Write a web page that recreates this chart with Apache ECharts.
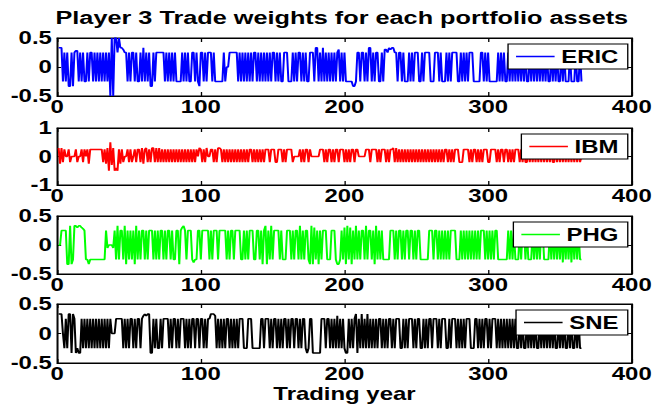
<!DOCTYPE html>
<html>
<head>
<meta charset="utf-8">
<script src="https://cdn.jsdelivr.net/npm/echarts@6/dist/echarts.min.js"></script>
<style>
html, body { margin: 0; padding: 0; background: #fff; overflow: hidden; }
/* the original figure is stretched sideways, so draw narrow and widen */
#main { width: 500px; height: 407px; transform: scaleX(1.33); transform-origin: 0 0; }
</style>
</head>
<body>
<div id="main"></div>
<script>
// asset names / colours
var names = ['ERIC', 'IBM', 'PHG', 'SNE'];
var colors = ['#0000ff', '#ff0000', '#00ff00', '#000000'];

// x axis ticks
var xTicks = [0, 100, 200, 300, 400];

// y ranges for each panel
var yMin = [-0.5, -1, -0.5, -0.5];
var yMax = [0.5, 1, 0.5, 0.5];
var yStep = [0.5, 1, 0.5, 0.5];

// trade weights, one value per trading day
var eric = [
  .33,.33,.33,-.25,.25,-.25,.25,-.33,-.33,.25,
  -.33,.25,.28,.28,-.25,.25,-.25,.25,-.25,-.25,
  .25,-.25,.25,.25,-.25,.25,-.25,.25,-.25,.25,
  -.25,.25,-.25,.25,-.25,.25,-.5,.5,-.5,.5,
  .5,.25,.5,.33,.33,.3,.25,.25,-.25,.25,
  -.25,.25,.25,-.25,.25,-.25,-.25,.25,-.25,.33,
  -.25,.25,-.25,.25,-.33,-.33,.25,-.25,.25,.25,
  .25,.25,.25,.25,-.25,.25,-.25,.25,-.25,.25,
  -.25,.25,-.25,-.25,-.25,-.25,.25,-.25,.25,-.25,
  .25,-.25,-.25,.25,.25,-.25,.25,-.25,-.33,.25,
  .25,-.25,.25,-.25,.25,.25,.25,-.25,.25,-.25,
  -.25,-.25,-.25,-.25,-.25,.25,-.25,0,0,.25,
  .25,.25,.25,.25,.25,-.25,.25,-.25,.25,-.25,
  .25,-.25,.25,-.25,.25,-.25,.25,.25,-.25,.25,
  -.25,.25,-.25,.25,-.25,.25,-.25,.25,-.25,.25,
  .25,-.25,.25,-.25,.25,-.25,-.25,.25,.25,.25,
  -.25,-.25,-.25,.25,-.25,.25,-.25,.25,.25,-.25,
  .25,-.25,.25,-.25,-.25,.25,.25,.25,-.25,.33,
  .33,-.25,.25,-.25,.33,-.25,.25,-.25,.25,-.25,
  .25,-.25,.25,-.25,.25,.3,-.25,.25,-.25,.25,
  -.25,-.25,-.25,-.25,-.25,-.33,-.33,-.25,.25,.25,
  -.25,.25,.25,-.25,.25,-.25,.33,.33,-.25,.25,
  -.25,.25,.25,-.25,-.25,.25,-.25,.3,.3,.25,
  .33,.3,.33,.33,.25,.25,-.25,.25,.25,-.25,
  .25,-.25,-.25,-.25,.25,-.25,.25,-.25,.25,.25,
  .25,-.25,-.25,.25,-.25,.25,.25,.25,.25,-.25,
  -.25,-.25,.25,.25,.25,-.25,.25,-.25,-.25,-.25,
  .25,-.25,.25,-.25,.25,.25,.25,.25,-.25,-.25,
  .25,-.25,.25,-.25,.25,-.25,.25,.25,.25,-.25,
  -.25,-.25,-.25,-.25,.25,.25,-.25,.25,-.25,.25,
  -.25,-.25,-.25,-.25,-.25,-.25,.25,-.25,.25,-.25,
  .25,-.25,-.25,.25,-.25,.25,-.25,.25,-.25,.25,
  -.25,.25,-.25,.25,-.25,.25,-.25,-.25,.25,-.25,
  .25,-.25,.25,-.25,.25,-.25,.25,-.25,.25,-.25,
  .25,-.25,-.25,.25,-.25,.25,-.25,.25,-.25,-.25,
  .25,-.25,.25,-.25,-.25,-.25,.25,-.25,-.25,-.25,
  .25,-.25,-.25,.25,-.25
];
var ibm = [
  .3,-.25,.3,-.2,.25,0,0,.25,-.2,0,
  0,0,.25,-.2,0,0,.25,-.2,.25,0,
  .25,-.25,.25,.25,.25,.25,.25,.25,.25,.25,
  .25,-.2,.25,-.25,.3,-.5,.5,-.3,.3,-.5,
  -.4,-.5,.25,-.25,.25,-.2,0,0,.25,-.2,
  .25,-.2,0,.25,-.2,.25,.25,-.2,.3,-.25,
  .25,.3,-.2,.25,-.2,.3,.3,-.2,.3,-.2,
  .3,-.2,.25,-.2,.25,-.2,.25,-.2,.25,-.2,
  .25,-.2,.25,-.2,.25,-.2,.25,-.2,.25,-.2,
  .25,-.2,.25,-.2,.25,-.2,.25,0,.3,.25,
  -.2,.25,-.2,.3,0,0,.25,.25,-.2,.25,
  -.2,.3,.3,.25,-.2,.25,-.2,.25,-.2,.25,
  -.2,.25,-.2,.25,-.2,.25,-.2,.25,-.2,.25,
  -.2,.25,-.2,.25,.25,-.2,.25,-.2,.25,-.2,
  .25,-.2,.25,-.2,.25,.25,.25,-.2,.25,.25,
  .25,-.2,-.2,.25,.25,.25,-.2,.25,-.2,.25,
  .25,.25,.25,-.2,0,0,0,0,.25,-.2,
  .25,-.2,.25,.25,-.2,.25,0,0,0,0,
  0,0,.25,.25,.25,-.2,.25,-.2,.25,.25,
  -.2,.25,-.2,.25,.25,-.2,.25,.25,.25,-.2,
  .25,-.2,.25,-.2,.25,.25,-.2,.25,.25,0,
  0,0,0,0,.25,.25,.25,-.2,.25,.25,
  .25,.25,-.2,.25,-.2,.25,.25,.25,-.2,.25,
  -.2,.25,.25,.3,-.2,.3,-.2,.25,-.2,.25,
  -.2,.25,-.2,.25,-.2,.25,-.2,.25,-.2,.25,
  -.2,.25,-.2,.25,-.2,.25,-.2,.25,-.2,.25,
  -.2,.25,-.2,.25,-.2,.25,-.2,.25,-.2,.25,
  .25,-.2,.25,-.2,.25,-.2,.25,.25,.25,-.2,
  -.2,-.2,.25,.25,.25,.25,-.2,.25,-.2,.25,
  .25,-.2,.25,-.2,.25,-.2,.25,.25,.25,-.2,
  -.2,.25,.25,.25,.25,-.2,.25,-.2,.25,.25,
  -.2,.25,.25,-.2,.25,-.2,.25,-.2,.25,.25,
  .25,-.2,.25,-.2,.25,-.2,-.2,.25,-.2,.25,
  -.2,.25,-.2,.25,-.2,.25,-.2,.25,-.2,.25,
  -.2,.25,-.2,.25,-.2,-.2,.25,-.2,.25,-.2,
  .25,-.2,.25,-.2,.25,-.2,.25,-.2,.25,-.2,
  .25,-.2,.25,-.2,0
];
var phg = [
  0,0,.25,.25,.25,.25,-.33,-.33,.33,-.33,
  -.25,.33,.33,.3,.33,.33,.3,.28,.25,-.25,
  -.25,-.33,-.25,-.25,-.25,-.25,-.25,-.25,-.25,-.25,
  -.25,-.25,-.25,.25,-.05,0,0,0,-.05,.25,
  -.25,.33,-.25,.25,.25,-.25,.33,-.33,.25,-.25,
  .25,-.25,.25,-.33,.33,-.25,.25,-.25,.25,.25,
  -.25,.25,-.25,.25,.25,.25,-.25,.25,-.25,.25,
  -.25,.25,.25,-.25,.25,-.25,.25,.25,-.25,.25,
  -.25,-.25,.25,.25,-.33,.25,.3,.33,.25,-.25,
  .25,.25,.25,-.25,-.3,-.25,-.25,.25,.25,-.25,
  .25,.25,.25,.25,.25,-.25,.25,-.25,.25,.25,
  .25,-.25,.25,.25,.25,.25,.25,-.25,.25,-.25,
  .25,.25,-.25,.25,.25,.25,.25,-.25,-.25,.25,
  -.25,.25,-.25,.25,.25,.25,-.25,-.25,.25,.25,
  -.25,.25,-.33,.25,.33,-.33,.25,-.25,.33,-.25,
  .25,.25,.25,.25,-.25,.25,-.25,-.25,-.25,.25,
  .25,.25,-.25,.25,-.25,.25,.25,-.25,.33,-.25,
  .25,-.25,.25,.25,-.25,-.33,.33,-.33,.3,-.25,
  .25,-.33,.25,-.25,.25,.25,.25,-.25,-.25,-.25,
  .25,.25,.25,-.25,-.33,-.33,-.25,.25,-.25,.3,
  -.33,.33,-.25,.3,-.33,.25,-.25,.33,-.25,.25,
  -.25,.25,.25,-.25,.33,-.25,.25,.25,-.25,.25,
  -.33,.33,-.25,.25,-.25,.25,-.25,-.25,-.25,-.25,
  -.25,.25,.25,.25,-.25,.25,-.25,.25,.25,-.25,
  .25,-.25,.25,.25,-.25,.25,.25,-.25,.25,-.25,
  .25,.25,-.25,-.25,-.25,-.25,-.25,-.25,.25,.25,
  .25,-.25,.25,.25,-.25,.25,-.25,.25,-.25,.25,
  -.25,.25,-.25,.25,.25,.25,.25,-.25,-.25,-.25,
  .25,-.25,.25,-.25,.25,-.25,.25,-.25,.25,-.25,
  .25,-.25,.25,-.25,.25,.25,.25,-.25,.25,-.25,
  .25,-.25,.25,-.25,.25,.25,-.25,-.25,-.25,-.25,
  -.25,-.25,-.25,.25,-.25,.25,-.25,.25,-.25,-.25,
  -.25,.25,-.25,.25,.25,-.25,.25,-.25,-.25,-.25,
  .25,-.25,.25,-.25,.25,-.25,.25,.25,-.25,-.25,
  -.25,-.25,.25,-.25,.25,-.25,.25,-.25,.25,-.25,
  .25,-.3,.25,-.25,.25,-.25,.25,-.3,.25,-.25,
  .25,-.25,.25,-.25,-.25
];
var sne = [
  .33,.33,.33,0,-.25,.25,-.25,.33,.33,-.33,
  .33,.25,-.33,-.25,-.33,-.33,.25,-.25,.25,-.25,
  .25,-.25,.25,-.25,.25,-.25,.25,-.25,.25,-.25,
  .25,-.25,.25,-.25,.25,-.25,.25,0,0,0,
  .25,.25,.25,.25,.25,-.25,.25,-.25,.25,-.25,
  .25,.25,-.25,.25,-.25,.25,.25,-.25,.25,.3,
  .33,.3,.33,.33,-.33,-.33,.25,-.25,.25,-.25,
  -.25,.25,-.25,.25,.25,.25,.25,-.25,.25,-.25,
  .25,.25,-.25,.25,-.25,.25,.25,.25,-.25,.25,
  -.25,.25,-.25,.25,.25,-.25,.25,.25,-.25,.25,
  .25,-.25,.25,-.25,.25,.25,.33,.33,.33,.3,
  -.25,.25,-.25,.25,-.25,.25,-.25,.25,.25,-.25,
  .25,-.25,.25,-.25,.25,-.25,.25,.25,.25,-.25,
  -.25,-.25,.25,.25,.25,-.25,-.25,-.25,-.25,-.25,
  -.25,.25,.25,-.25,.25,.25,.25,-.25,.25,-.25,
  .25,.25,-.25,.25,-.25,.25,-.25,.25,.25,-.25,
  .25,-.25,.25,.25,-.25,.25,.25,-.25,.25,-.25,
  .25,.25,-.25,-.33,-.25,.25,.25,-.33,-.33,-.33,
  -.33,-.33,-.33,.25,.25,.25,-.25,.25,.25,-.25,
  .25,-.25,.25,-.25,.3,-.25,.25,-.25,.25,-.25,
  -.33,-.33,.25,-.25,.25,-.25,.25,.33,-.33,.25,
  -.25,.33,-.25,.25,-.25,.33,-.25,.25,-.25,.25,
  -.25,.25,-.25,.25,.25,-.25,.25,-.25,.25,-.25,
  .25,.25,-.25,.25,-.25,.25,.25,.25,-.25,-.25,
  .25,-.25,.25,-.25,.25,.25,.25,-.25,.25,-.25,
  .25,.25,-.25,-.25,.25,-.25,.25,-.25,.25,.25,
  -.25,.25,.25,.25,-.25,.25,-.25,.25,.25,.25,
  -.25,-.25,.25,-.25,.25,.25,.25,-.25,.25,-.25,
  .25,-.25,.25,-.25,.25,.25,.25,-.25,-.25,-.25,
  .25,.25,-.25,.25,-.25,.25,-.25,.25,.25,-.25,
  .25,-.25,.25,.25,.25,-.25,.25,-.25,.25,-.25,
  .25,-.25,.25,-.25,.25,-.25,.25,-.25,.25,-.25,
  -.25,.25,-.25,.25,-.25,-.25,.25,-.25,.25,-.25,
  .25,-.25,.25,-.25,-.25,.25,-.25,.25,-.25,.25,
  -.25,.25,-.25,.25,-.25,.25,-.25,-.25,.25,-.25,
  .25,-.25,.25,-.25,-.25,.25,-.25,.25,-.25,-.25,
  .25,-.25,.25,-.25,-.25
];
var weights = [eric, ibm, phg, sne];

var font = "'Liberation Sans', Arial, sans-serif";
var tops = [38, 128, 216, 304];
var heights = [58, 57, 58, 59];

var chart = echarts.init(document.getElementById('main'), null, { renderer: 'svg' });

var grids = [], xAxes = [], yAxes = [], series = [], legends = [];
for (var i = 0; i < 4; i++) {
  grids.push({
    left: 43, right: 25, top: tops[i], height: heights[i],
    show: true, borderColor: '#000', borderWidth: 1, backgroundColor: '#fff'
  });
  // bottom axis with labels
  xAxes.push({
    type: 'value', gridIndex: i, position: 'bottom',
    min: xTicks[0], max: xTicks[xTicks.length - 1], interval: 100,
    axisLine: { show: true, onZero: false, lineStyle: { color: '#000', width: 1 } },
    axisTick: { show: true, inside: true, length: 4, lineStyle: { color: '#000' } },
    axisLabel: { margin: 2, fontSize: 18, fontWeight: 'bold', color: '#000', fontFamily: font },
    splitLine: { show: false },
    name: i == 3 ? 'Trading year' : '',
    nameLocation: 'middle', nameGap: 22,
    nameTextStyle: { fontSize: 18, fontWeight: 'bold', color: '#000', fontFamily: font }
  });
  // top axis, ticks only
  xAxes.push({
    type: 'value', gridIndex: i, position: 'top',
    min: xTicks[0], max: xTicks[xTicks.length - 1], interval: 100,
    axisLine: { show: true, onZero: false, lineStyle: { color: '#000', width: 1 } },
    axisTick: { show: true, inside: true, length: 4, lineStyle: { color: '#000' } },
    axisLabel: { show: false },
    splitLine: { show: false }
  });
  yAxes.push({
    type: 'value', gridIndex: i, position: 'left',
    min: yMin[i], max: yMax[i], interval: yStep[i],
    axisLine: { show: true, onZero: false, lineStyle: { color: '#000', width: 1 } },
    axisTick: { show: true, inside: true, length: 3, lineStyle: { color: '#000' } },
    axisLabel: { margin: 4, fontSize: 18, fontWeight: 'bold', color: '#000', fontFamily: font },
    splitLine: { show: false }
  });
  yAxes.push({
    type: 'value', gridIndex: i, position: 'right',
    min: yMin[i], max: yMax[i], interval: yStep[i],
    axisLine: { show: true, onZero: false, lineStyle: { color: '#000', width: 1 } },
    axisTick: { show: true, inside: true, length: 3, lineStyle: { color: '#000' } },
    axisLabel: { show: false },
    splitLine: { show: false }
  });
  series.push({
    name: names[i], type: 'line',
    xAxisIndex: i * 2, yAxisIndex: i * 2,
    symbol: 'none', color: colors[i],
    lineStyle: { color: colors[i], width: 1.5 },
    data: weights[i].map(function (v, k) { return [k + 1, v]; })
  });
  legends.push({
    data: [names[i]], right: 28, top: tops[i] + 6,
    backgroundColor: '#fff', borderColor: '#000', borderWidth: 1, borderRadius: 0,
    padding: [3, 7, 3, 6], itemWidth: 29, itemHeight: 1.5, icon: 'rect',
    textStyle: { fontSize: 18, lineHeight: 19, fontWeight: 'bold', color: '#000', fontFamily: font }
  });
}

var option = {
  animation: false,
  backgroundColor: '#fff',
  graphic: [{
    type: 'text', x: 257, y: 18, z: 10,
    style: {
      text: 'Player 3 Trade weights for each portfolio assets',
      textAlign: 'center', textVerticalAlign: 'middle',
      font: 'bold 19px ' + font, fill: '#000'
    }
  }],
  grid: grids,
  xAxis: xAxes,
  yAxis: yAxes,
  legend: legends,
  series: series
};
chart.setOption(option);
</script>
</body>
</html>
